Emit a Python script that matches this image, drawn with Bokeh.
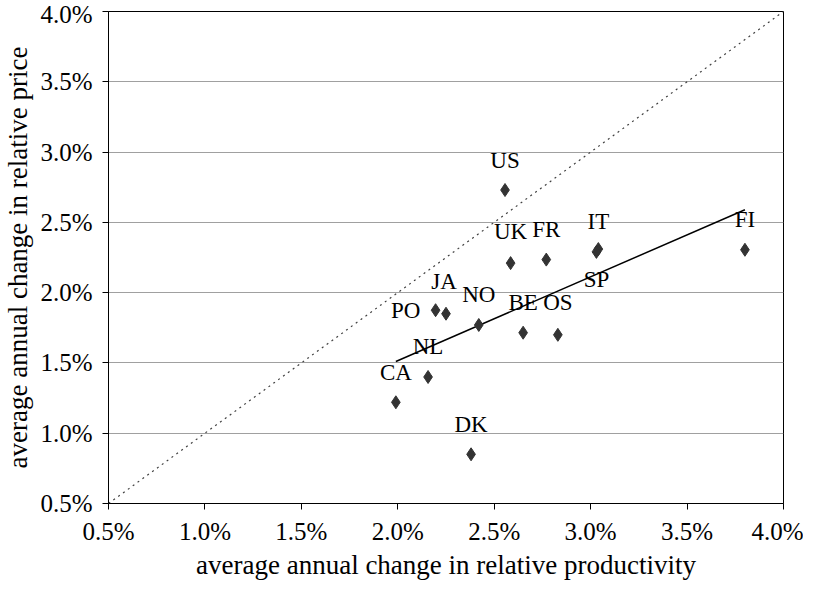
from bokeh.plotting import figure
from bokeh.models import ColumnDataSource, FixedTicker, Range1d, CustomJSTickFormatter
from bokeh.core.properties import value
from bokeh.embed import file_html
from bokeh.resources import INLINE

countries = ["US", "UK", "FR", "IT", "SP", "FI", "JA", "PO", "NO", "BE", "OS", "NL", "CA", "DK"]
productivity = [2.556, 2.585, 2.77, 3.04, 3.03, 3.80, 2.25, 2.196, 2.42, 2.65, 2.83, 2.157, 1.99, 2.38]
price = [2.73, 2.21, 2.235, 2.31, 2.29, 2.305, 1.85, 1.875, 1.77, 1.715, 1.70, 1.40, 1.22, 0.85]
label_dx = [0, 0, 0, 0, 0, 0, -2, -30, 0, 0, 0, 0, 0, 0]
label_dy = [-30, -32, -30, -28, 28, -30, -32, 0, -30, -30, -32, -30, -30, -30]
trend_x = [1.99, 3.80]
trend_y = [1.51, 2.59]
ticks = [0.5, 1.0, 1.5, 2.0, 2.5, 3.0, 3.5, 4.0]

FONT = "Liberation Serif"

p = figure(width=803, height=582, output_backend="svg", toolbar_location=None,
           x_range=Range1d(0.5, 4.0), y_range=Range1d(0.5, 4.0),
           min_border_left=97, min_border_right=20, min_border_top=11, min_border_bottom=78)
p.outline_line_color = "black"
p.outline_line_width = 1
p.xgrid.grid_line_color = None
p.ygrid.grid_line_color = "#a0a0a0"

fmt = CustomJSTickFormatter(code="return tick.toFixed(1) + '%';")
for ax in (p.xaxis, p.yaxis):
    ax.ticker = FixedTicker(ticks=ticks)
    ax.formatter = fmt
    ax.major_label_text_font = FONT
    ax.major_label_text_font_size = "25px"
    ax.major_label_text_color = "black"
    ax.axis_label_text_font = FONT
    ax.axis_label_text_font_size = "27px"
    ax.axis_label_text_font_style = "normal"
    ax.axis_label_text_color = "black"
    ax.axis_line_color = "black"
    ax.major_tick_line_color = "black"
    ax.major_tick_out = 6
    ax.major_tick_in = 0
    ax.minor_tick_line_color = None
p.xaxis.axis_label = "average annual change in relative productivity"
p.yaxis.axis_label = "average annual change in relative price"
p.xaxis.major_label_standoff = 8
p.xaxis.axis_label_standoff = 2
p.yaxis.major_label_standoff = 10
p.yaxis.axis_label_standoff = 4

p.line([0.5, 4.0], [0.5, 4.0], line_color="#404040", line_dash="2 4", line_width=1.2)
p.line(trend_x, trend_y, line_color="black", line_width=1.5)

src = ColumnDataSource(dict(x=productivity, y=price, name=countries, dx=label_dx, dy=label_dy))
p.scatter("x", "y", source=src, marker="diamond", size=13, fill_color="#333333", line_color="#333333")
p.text("x", "y", text="name", source=src, x_offset="dx", y_offset="dy",
       text_font=value(FONT), text_font_size="23px", text_align="center",
       text_baseline="middle", text_color="black")

open("out.html", "w").write(file_html(p, INLINE))
